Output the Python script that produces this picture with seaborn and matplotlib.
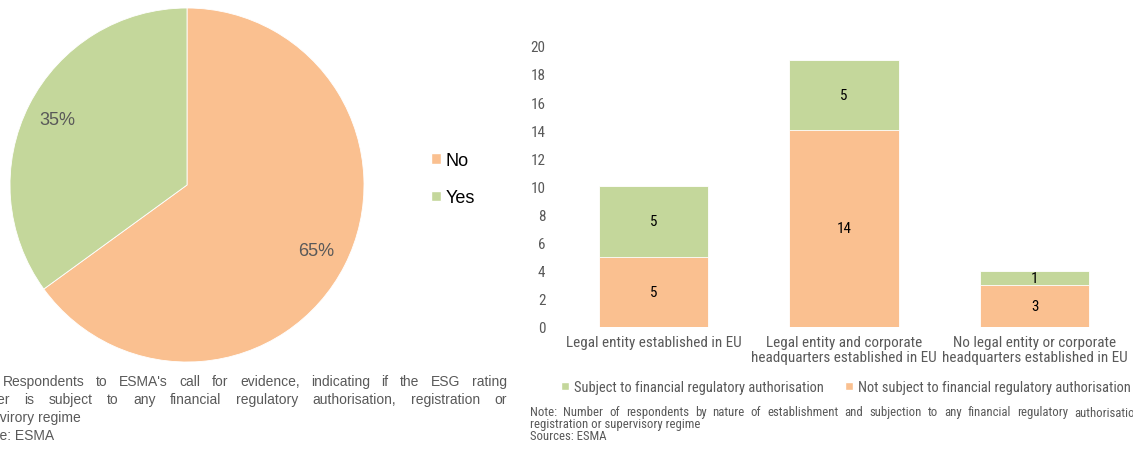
import matplotlib
matplotlib.use("Agg")
import matplotlib.pyplot as plt
from matplotlib.patches import Patch
from matplotlib import font_manager as fm
import seaborn as sns
import numpy as np

# ---------------- data ----------------
pie_labels = ["No", "Yes"]
pie_values = [65, 35]

categories = [
    "Legal entity established in EU",
    "Legal entity and corporate\nheadquarters established in EU",
    "No legal entity or corporate\nheadquarters established in EU",
]
not_subject = [5, 14, 3]
subject = [5, 5, 1]
series_names = ["Subject to financial regulatory authorisation",
                "Not subject to financial regulatory authorisation"]
y_ticks = [0, 2, 4, 6, 8, 10, 12, 14, 16, 18, 20]

left_note = [
    "Note: Respondents to ESMA's call for evidence, indicating if the ESG rating",
    "provider is subject to any financial regulatory authorisation, registration or",
    "supervirory regime",
    "Source: ESMA",
]
right_note = [
    "Note: Number of respondents by nature of establishment and subjection to any financial regulatory authorisation,",
    "registration or supervisory regime",
    "Sources: ESMA",
]

# ---------------- style ----------------
sns.set_theme(style="white")
ORANGE = "#FAC090"
GREEN = "#C4D79B"
GREY = "#595959"
REG = ["Liberation Sans", "DejaVu Sans"]
plt.rcParams["font.family"] = REG

W, H = 1133, 452
fig = plt.figure(figsize=(W / 100, H / 100), dpi=100)
fig.patch.set_facecolor("white")
renderer = fig.canvas.get_renderer()


# pick a condensed face if one is installed, otherwise regular Liberation Sans
def find_narrow():
    pref = ["Liberation Sans Narrow", "Arial Narrow", "Roboto Condensed",
            "Noto Sans Condensed", "Open Sans Condensed", "DejaVu Sans Condensed"]
    ok_w = (400, "normal", "regular", "book", "Regular", "Book")
    cands = []
    for f in fm.fontManager.ttflist:
        if f.style != "normal" or f.weight not in ok_w:
            continue
        if f.name in pref:
            cands.append((pref.index(f.name), f.fname))
        elif f.stretch == "condensed" and f.name in ("Liberation Sans", "Roboto", "Noto Sans",
                                                     "Open Sans", "DejaVu Sans"):
            cands.append((10, f.fname))
    if cands:
        cands.sort()
        return fm.FontProperties(fname=cands[0][1])
    return fm.FontProperties(family="Liberation Sans")


NARROW_FP = find_narrow()


def fit_size(text, target_px):
    fp = NARROW_FP.copy()
    fp.set_size(10)
    t = fig.text(0, 0, text, fontproperties=fp)
    w = t.get_window_extent(renderer).width
    t.remove()
    return 10 * target_px / w


def nfp(size):
    fp = NARROW_FP.copy()
    fp.set_size(size)
    return fp


tick_size = fit_size("Legal entity established in EU", 174)
leg_size = fit_size(series_names[0], 249)
note_size = fit_size(right_note[1], 169)

# ---------------- pie ----------------
cx, cy, r = 187, 186, 177
pax = fig.add_axes([(cx - r) / W, (H - cy - r) / H, 2 * r / W, 2 * r / H])
pax.pie(pie_values, colors=[ORANGE, GREEN], startangle=90,
        counterclock=False, autopct="%d%%", pctdistance=0.82,
        radius=1, wedgeprops=dict(edgecolor="white", linewidth=0.6),
        textprops=dict(color=GREY, fontsize=13, family=REG))
pax.set_xlim(-1, 1)
pax.set_ylim(-1, 1)
pax.set_aspect("equal")
pax.axis("off")

fig.legend(handles=[Patch(facecolor=ORANGE, label=pie_labels[0]),
                    Patch(facecolor=GREEN, label=pie_labels[1])],
           loc="center left", bbox_to_anchor=(415 / W, 1 - 180 / H),
           frameon=False, prop=dict(family=REG, size=13),
           handlelength=0.55, handleheight=0.55, handletextpad=0.25,
           labelspacing=1.15, labelcolor="black")

# ---------------- stacked bars ----------------
x0p, x1p = 558, 1130
y0p, y1p = 327.7, 46.9
bax = fig.add_axes([x0p / W, (H - y0p) / H, (x1p - x0p) / W, (y0p - y1p) / H])
totals = np.array(not_subject) + np.array(subject)
sns.barplot(x=categories, y=totals, color=GREEN, saturation=1, width=0.572,
            ax=bax, edgecolor="white", linewidth=0.6)
sns.barplot(x=categories, y=not_subject, color=ORANGE, saturation=1, width=0.572,
            ax=bax, edgecolor="white", linewidth=0.6)
bax.set_xlim(-0.5, 2.5)
bax.set_ylim(0, 20)
bax.set_yticks(y_ticks)
bax.set_ylabel("")
bax.set_xlabel("")
for s in bax.spines.values():
    s.set_visible(False)
bax.tick_params(axis="both", length=0, colors=GREY)
bax.tick_params(axis="y", pad=9)
bax.tick_params(axis="x", pad=6)
for lab in bax.get_xticklabels() + bax.get_yticklabels():
    lab.set_fontproperties(nfp(tick_size))
    lab.set_color(GREY)
for lab in bax.get_xticklabels():
    lab.set_linespacing(1.1)

for i, (a, b) in enumerate(zip(not_subject, subject)):
    bax.text(i, a / 2, str(a), ha="center", va="center",
             fontproperties=nfp(tick_size), color="black")
    bax.text(i, a + b / 2, str(b), ha="center", va="center",
             fontproperties=nfp(tick_size), color="black")

fig.legend(handles=[Patch(facecolor=GREEN, label=series_names[0]),
                    Patch(facecolor=ORANGE, label=series_names[1])],
           loc="center", bbox_to_anchor=(846 / W, 1 - 388 / H), ncol=2,
           frameon=False, prop=nfp(leg_size),
           handlelength=0.55, handleheight=0.55, handletextpad=0.35,
           columnspacing=1.4, labelcolor=GREY)


# ---------------- notes ----------------
def line_text(text, x0, y, x1=None, **kw):
    if x1 is None:
        fig.text(x0 / W, 1 - y / H, text, ha="left", va="center", **kw)
        return
    words = text.split(" ")
    ts = [fig.text(0, 1 - y / H, w, ha="left", va="center", **kw) for w in words]
    widths = [t.get_window_extent(renderer).width for t in ts]
    gap = (x1 - x0 - sum(widths)) / (len(ts) - 1)
    x = x0
    for t, w in zip(ts, widths):
        t.set_x(x / W)
        x += w + gap


ys = [382.5, 400, 418, 436]
x_starts = [-42, -41, -35, -37]
for k, (t, y) in enumerate(zip(left_note, ys)):
    line_text(t, x_starts[k], y, 507 if k < 2 else None, fontsize=10, family=REG, color=GREY)

ys2 = [413, 425, 437]
for k, (t, y) in enumerate(zip(right_note, ys2)):
    line_text(t, 530, y, 1143 if k == 0 else None,
              fontproperties=nfp(note_size), color=GREY)

fig.savefig("out.png", dpi=100)
